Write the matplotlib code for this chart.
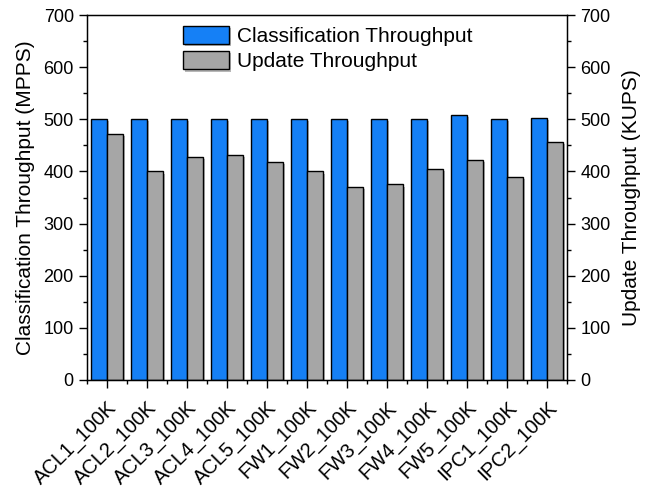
import matplotlib
matplotlib.use('Agg')
import matplotlib.pyplot as plt
import numpy as np
from matplotlib.ticker import MultipleLocator, FixedLocator
import matplotlib.patheffects as pe

plt.rcParams['font.family'] = ['Liberation Sans', 'DejaVu Sans']
plt.rcParams['font.size'] = 13

categories = ['ACL1_100K', 'ACL2_100K', 'ACL3_100K', 'ACL4_100K', 'ACL5_100K',
              'FW1_100K', 'FW2_100K', 'FW3_100K', 'FW4_100K', 'FW5_100K',
              'IPC1_100K', 'IPC2_100K']
classification = [501, 501, 501, 501, 501, 501, 501, 501, 500, 508, 501, 502]
update = [472, 400, 427, 432, 419, 400, 371, 375, 405, 422, 390, 456]

blue = '#1580F6'
gray = '#A6A6A6'

fig = plt.figure(figsize=(6.48, 4.91), dpi=100)
ax = fig.add_axes([87 / 648, 1 - 380 / 491, 480 / 648, 365 / 491])

x = np.arange(len(categories))
w = 0.4
shadow = [pe.SimplePatchShadow(offset=(1.5, -1.5), shadow_rgbFace='#888888', alpha=0.6), pe.Normal()]
ax.bar(x - w / 2, classification, w, color=blue, edgecolor='black', linewidth=1,
       label='Classification Throughput', path_effects=shadow)
ax.bar(x + w / 2, update, w, color=gray, edgecolor='black', linewidth=1,
       label='Update Throughput', path_effects=shadow)

ax.set_xlim(-0.5, len(categories) - 0.5)
ax.set_ylim(0, 700)
ax.yaxis.set_major_locator(MultipleLocator(100))
ax.yaxis.set_minor_locator(MultipleLocator(50))
ax.set_xticks(x)
ax.set_xticklabels(categories, rotation=45, ha='right', rotation_mode='anchor', fontsize=14.5)
ax.xaxis.set_minor_locator(FixedLocator(np.arange(-0.5, len(categories), 1.0)))
ax.tick_params(axis='both', which='major', direction='out', length=6, width=1)
ax.tick_params(axis='both', which='minor', direction='out', length=3, width=1)
ax.tick_params(axis='x', which='major', pad=7)
ax.set_ylabel('Classification Throughput (MPPS)', fontsize=15, labelpad=6)
for s in ax.spines.values():
    s.set_linewidth(1)

ax2 = ax.twinx()
ax2.set_ylim(0, 700)
ax2.yaxis.set_major_locator(MultipleLocator(100))
ax2.yaxis.set_minor_locator(MultipleLocator(50))
ax2.tick_params(axis='y', which='major', direction='out', length=6, width=1)
ax2.tick_params(axis='y', which='minor', direction='out', length=3, width=1)
ax2.set_ylabel('Update Throughput (KUPS)', fontsize=15, labelpad=8)

ax.legend(loc='upper left', bbox_to_anchor=(0.2, 0.971), frameon=False,
          handlelength=2.2, handleheight=1.0, handletextpad=0.4, labelspacing=0.23,
          borderpad=0, borderaxespad=0, fontsize=15)

fig.savefig('out.png', dpi=100)
